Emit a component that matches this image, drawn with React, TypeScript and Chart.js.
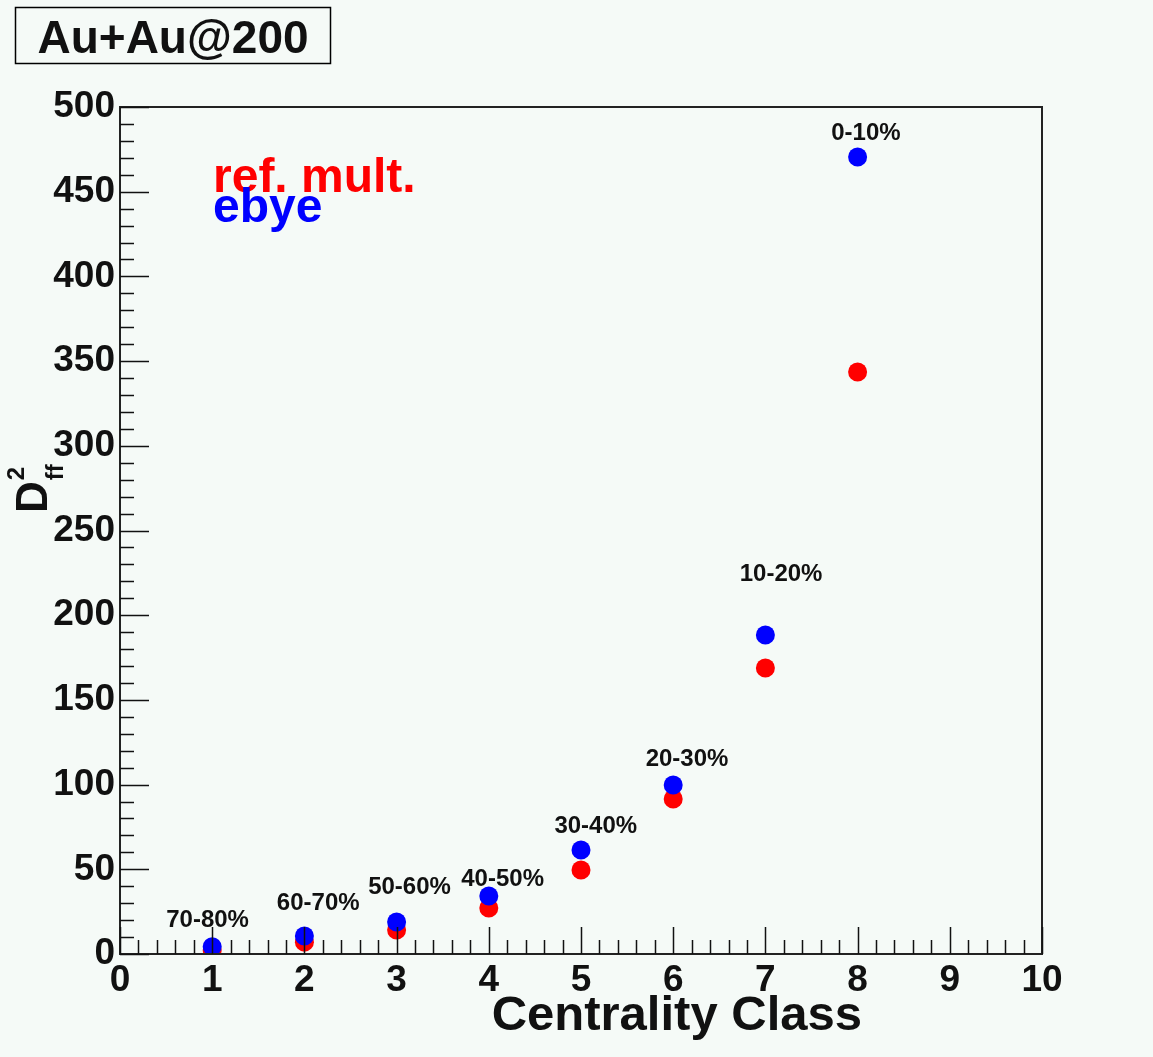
import React, { useEffect, useRef } from "react";
import { Chart, registerables } from "chart.js";

Chart.register(...registerables);

const centralityClass = [1, 2, 3, 4, 5, 6, 7, 8];
const ebyeValues = [4.3, 10.6, 18.9, 34.2, 61.4, 99.8, 188.3, 470.5];
const refMultValues = [2.4, 7.0, 14.2, 27.2, 49.6, 91.5, 168.8, 343.6];
const classLabels = ["70-80%", "60-70%", "50-60%", "40-50%", "30-40%", "20-30%", "10-20%", "0-10%"];
const classLabelX = [0.95, 2.15, 3.14, 4.15, 5.16, 6.15, 7.17, 8.09];
const classLabelY = [20, 30, 39.5, 44, 75.5, 115, 224, 484.6];
const xTickValues = [0, 1, 2, 3, 4, 5, 6, 7, 8, 9, 10];
const yTickValues = [0, 50, 100, 150, 200, 250, 300, 350, 400, 450, 500];

const FONT = '"Liberation Sans", Arial, Helvetica, sans-serif';
const BG = "#f5faf7";
const INK = "#111111";

const decorPlugin = {
  id: "decor",
  beforeDraw(chart: any) {
    const ctx = chart.ctx;
    ctx.save();
    ctx.fillStyle = BG;
    ctx.fillRect(0, 0, chart.width, chart.height);
    ctx.restore();
  },
  afterDraw(chart: any) {
    const ctx = chart.ctx;
    const { left, right, top, bottom } = chart.chartArea;
    const xs = chart.scales.x;
    const ys = chart.scales.y;
    ctx.save();
    // frame
    ctx.strokeStyle = "#222222";
    ctx.lineWidth = 2;
    ctx.strokeRect(left, top, right - left, bottom - top);
    // ticks inside the frame
    ctx.lineWidth = 1.5;
    ctx.strokeStyle = INK;
    ctx.beginPath();
    for (let v = 0; v <= 50; v++) {
      const val = v * 0.2;
      const px = Math.round(xs.getPixelForValue(val)) + 0.5;
      const len = v % 5 === 0 ? 27 : 14;
      ctx.moveTo(px, bottom);
      ctx.lineTo(px, bottom - len);
    }
    for (let v = 0; v <= 50; v++) {
      const val = v * 10;
      const py = Math.round(ys.getPixelForValue(val)) + 0.5;
      const len = v % 5 === 0 ? 29 : 14;
      ctx.moveTo(left, py);
      ctx.lineTo(left + len, py);
    }
    ctx.stroke();

    // class labels
    ctx.fillStyle = INK;
    ctx.font = `bold 24px ${FONT}`;
    ctx.textAlign = "center";
    ctx.textBaseline = "middle";
    classLabels.forEach((t, i) => {
      ctx.fillText(t, xs.getPixelForValue(classLabelX[i]), ys.getPixelForValue(classLabelY[i]));
    });

    // legend texts
    ctx.textAlign = "left";
    ctx.textBaseline = "alphabetic";
    ctx.font = `bold 48px ${FONT}`;
    ctx.fillStyle = "#ff0000";
    ctx.fillText("ref. mult.", 213, 192);
    ctx.fillStyle = "#0000ff";
    ctx.fillText("ebye", 213, 222);

    // title box
    ctx.fillStyle = BG;
    ctx.fillRect(15, 7, 315, 56);
    ctx.strokeStyle = "#000000";
    ctx.lineWidth = 1.5;
    ctx.strokeRect(15.5, 7.5, 315, 56);
    ctx.fillStyle = INK;
    ctx.font = `bold 46px ${FONT}`;
    ctx.textAlign = "center";
    ctx.fillText("Au+Au@200", 173, 53);

    // x axis title
    ctx.textAlign = "right";
    ctx.font = `bold 49px ${FONT}`;
    ctx.fillText("Centrality Class", 862, 1030);

    // y axis title D^2_ff rotated
    ctx.save();
    ctx.translate(47, 513);
    ctx.rotate(-Math.PI / 2);
    ctx.textAlign = "left";
    ctx.font = `bold 44px ${FONT}`;
    ctx.fillText("D", 0, 0);
    const dW = ctx.measureText("D").width;
    ctx.font = `bold 24px ${FONT}`;
    ctx.fillText("2", dW + 1, -23);
    ctx.fillText("ff", dW + 1, 16);
    ctx.restore();

    ctx.restore();
  },
};

export default function App() {
  const ref = useRef<HTMLCanvasElement | null>(null);
  useEffect(() => {
    document.body.style.margin = "0";
    document.body.style.background = BG;
    const canvas = ref.current!;
    const chart = new Chart(canvas, {
      type: "scatter",
      data: {
        datasets: [
          {
            label: "ebye",
            data: centralityClass.map((x, i) => ({ x, y: ebyeValues[i] })),
            backgroundColor: "#0000ff",
            borderWidth: 0,
            pointRadius: 9.5,
            pointStyle: "circle",
          },
          {
            label: "ref. mult.",
            data: centralityClass.map((x, i) => ({ x, y: refMultValues[i] })),
            backgroundColor: "#ff0000",
            borderWidth: 0,
            pointRadius: 9.5,
            pointStyle: "circle",
          },
        ],
      },
      options: {
        responsive: false,
        animation: false,
        layout: { padding: { top: 107, right: 111, left: 0, bottom: 0 } },
        plugins: { legend: { display: false }, tooltip: { enabled: false } },
        scales: {
          x: {
            type: "linear",
            min: 0,
            max: 10,
            afterFit: (s: any) => {
              s.height = 103;
            },
            afterBuildTicks: (s: any) => {
              s.ticks = xTickValues.map((v) => ({ value: v }));
            },
            border: { display: false },
            grid: { display: false, drawTicks: false },
            ticks: {
              color: INK,
              padding: 5,
              maxRotation: 0,
              font: { family: FONT, size: 37, weight: "bold" },
            },
          },
          y: {
            type: "linear",
            min: 0,
            max: 500,
            afterFit: (s: any) => {
              s.width = 120;
            },
            afterBuildTicks: (s: any) => {
              s.ticks = yTickValues.map((v) => ({ value: v }));
            },
            border: { display: false },
            grid: { display: false, drawTicks: false },
            ticks: {
              color: INK,
              padding: 5,
              font: { family: FONT, size: 37, weight: "bold" },
            },
          },
        },
      },
      plugins: [decorPlugin],
    } as any);
    return () => chart.destroy();
  }, []);
  return <canvas ref={ref} width={1153} height={1057} style={{ display: "block" }} />;
}
